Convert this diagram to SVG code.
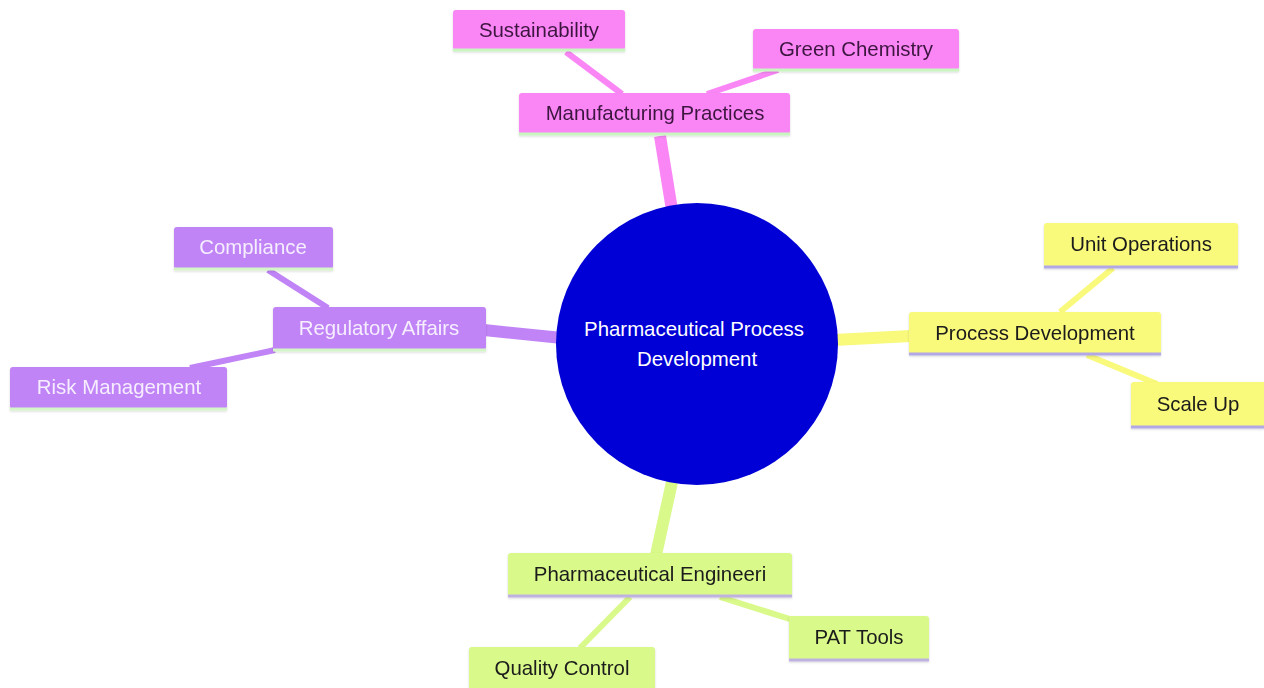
<svg xmlns="http://www.w3.org/2000/svg" width="1264" height="688" viewBox="0 0 1264 688">
<defs>
<style>
text{font-family:"Liberation Sans",Arial,sans-serif;font-size:20.4px;text-anchor:middle}
.pink rect{fill:#fa86f6}
.pink text{fill:#3d1640}
.pink line.b{stroke:#c8f5c0}
.purp rect{fill:#c084f6}
.purp text{fill:#f6eeff}
.purp line.b{stroke:#d4f5c8}
.yel rect{fill:#f9f97c}
.yel text{fill:#1a1a1a}
.yel line.b{stroke:#b2a8e6}
.lime rect{fill:#d9f98a}
.lime text{fill:#1a1a1a}
.lime line.b{stroke:#bfb2e0}
line.b{stroke-width:3}
.e0{stroke-width:12;fill:none}
.e1{stroke-width:6;fill:none}
</style>
<filter id="sh" x="-10%" y="-10%" width="120%" height="140%">
<feDropShadow dx="0" dy="1" stdDeviation="1.2" flood-color="#000" flood-opacity="0.15"/>
</filter>
</defs>
<rect width="1264" height="688" fill="#ffffff"/>
<g id="connectors">
<line class="e0" x1="660" y1="136" x2="672" y2="210" stroke="#fa86f6"/>
<line class="e1" x1="566" y1="52" x2="622" y2="94" stroke="#fa86f6"/>
<line class="e1" x1="778" y1="70" x2="707" y2="94" stroke="#fa86f6"/>
<line class="e0" x1="484" y1="330" x2="562" y2="338" stroke="#c084f6"/>
<line class="e1" x1="268" y1="270" x2="328" y2="308" stroke="#c084f6"/>
<line class="e1" x1="190" y1="368" x2="275" y2="350" stroke="#c084f6"/>
<line class="e0" x1="834" y1="340" x2="911" y2="336" stroke="#f9f97c"/>
<line class="e1" x1="1113" y1="268" x2="1060" y2="312" stroke="#f9f97c"/>
<line class="e1" x1="1087" y1="355" x2="1157" y2="384" stroke="#f9f97c"/>
<line class="e0" x1="672" y1="482" x2="656" y2="555" stroke="#d9f98a"/>
<line class="e1" x1="630" y1="597" x2="580" y2="648" stroke="#d9f98a"/>
<line class="e1" x1="720" y1="597" x2="793" y2="620" stroke="#d9f98a"/>
</g>
<g id="root">
<circle cx="697" cy="344" r="141" fill="#0000d6"/>
<text x="694" y="336" fill="#ffffff">Pharmaceutical Process</text>
<text x="697" y="366" fill="#ffffff">Development</text>
</g>
<g id="manufacturing" class="pink" filter="url(#sh)">
<rect x="519" y="93" width="271" height="41" rx="3"/>
<line class="b" x1="519" y1="134" x2="790" y2="134"/>
<text x="655" y="120">Manufacturing Practices</text>
</g>
<g id="sustainability" class="pink" filter="url(#sh)">
<rect x="453" y="10" width="172" height="40" rx="3"/>
<line class="b" x1="453" y1="50" x2="625" y2="50"/>
<text x="539" y="37">Sustainability</text>
</g>
<g id="green" class="pink" filter="url(#sh)">
<rect x="753" y="29" width="206" height="41" rx="3"/>
<line class="b" x1="753" y1="70" x2="959" y2="70"/>
<text x="856" y="56">Green Chemistry</text>
</g>
<g id="regulatory" class="purp" filter="url(#sh)">
<rect x="273" y="307" width="213" height="43" rx="3"/>
<line class="b" x1="273" y1="350" x2="486" y2="350"/>
<text x="379" y="335">Regulatory Affairs</text>
</g>
<g id="compliance" class="purp" filter="url(#sh)">
<rect x="174" y="227" width="159" height="42" rx="3"/>
<line class="b" x1="174" y1="269" x2="333" y2="269"/>
<text x="253" y="254">Compliance</text>
</g>
<g id="risk" class="purp" filter="url(#sh)">
<rect x="10" y="367" width="217" height="42" rx="3"/>
<line class="b" x1="10" y1="409" x2="227" y2="409"/>
<text x="119" y="394">Risk Management</text>
</g>
<g id="process" class="yel" filter="url(#sh)">
<rect x="909" y="312" width="252" height="42" rx="3"/>
<line class="b" x1="909" y1="354" x2="1161" y2="354"/>
<text x="1035" y="340">Process Development</text>
</g>
<g id="unitops" class="yel" filter="url(#sh)">
<rect x="1044" y="223" width="194" height="44" rx="3"/>
<line class="b" x1="1044" y1="267" x2="1238" y2="267"/>
<text x="1141" y="251">Unit Operations</text>
</g>
<g id="scaleup" class="yel" filter="url(#sh)">
<rect x="1131" y="382" width="136" height="45" rx="3"/>
<line class="b" x1="1131" y1="427" x2="1264" y2="427"/>
<text x="1198" y="411">Scale Up</text>
</g>
<g id="engineering" class="lime" filter="url(#sh)">
<rect x="508" y="553" width="284" height="43" rx="3"/>
<line class="b" x1="508" y1="596" x2="792" y2="596"/>
<text x="650" y="581">Pharmaceutical Engineeri</text>
</g>
<g id="pat" class="lime" filter="url(#sh)">
<rect x="789" y="616" width="140" height="44" rx="3"/>
<line class="b" x1="789" y1="660" x2="929" y2="660"/>
<text x="859" y="644">PAT Tools</text>
</g>
<g id="quality" class="lime" filter="url(#sh)">
<rect x="469" y="647" width="186" height="46" rx="3"/>
<text x="562" y="675">Quality Control</text>
</g>
</svg>
